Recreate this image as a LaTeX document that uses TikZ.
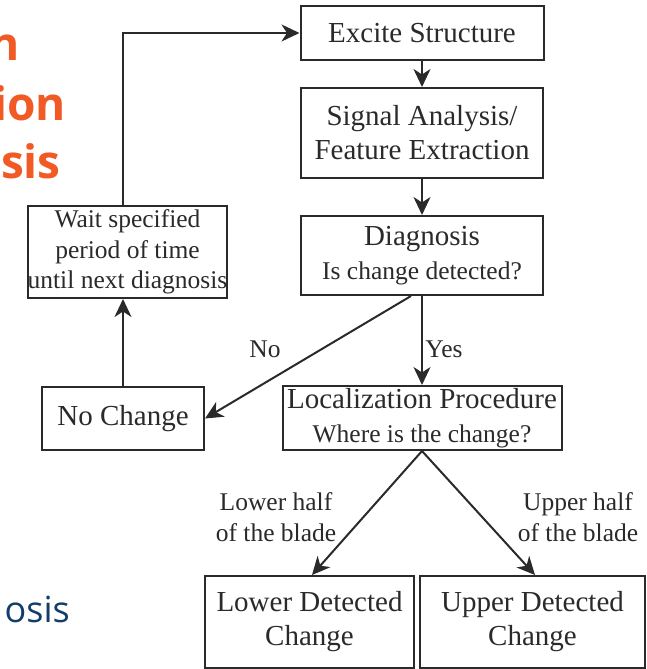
\documentclass[tikz,border=0pt]{standalone}
\usepackage{fontspec}
\setmainfont{Liberation Serif}
\newfontfamily\slidefont{Open Sans}
\usetikzlibrary{arrows.meta}
\usepackage{xcolor}
\definecolor{SlideOrange}{HTML}{F15A24}
\definecolor{SlideBlue}{HTML}{123D6A}
\definecolor{LineGray}{HTML}{2A2A2A}
\newcommand{\boxfont}{\fontsize{29}{34}\selectfont}
\newcommand{\notefont}{\fontsize{25.5}{30.5}\selectfont}

\begin{document}
\begin{tikzpicture}[x=1pt, y=-1pt,
    block/.style={draw=LineGray, line width=2pt, align=center, inner sep=0pt, text=LineGray, font=\boxfont},
    arr/.style={-{Stealth[length=18pt, width=17pt, inset=5.5pt]}, draw=LineGray, line width=2pt},
    lbl/.style={align=center, inner sep=0pt, text=LineGray, font=\notefont}]
    \useasboundingbox (0,0) rectangle (646,669);

    % Slide text behind the figure
    \node[anchor=base east, inner sep=0pt, text=SlideOrange, font=\slidefont\bfseries\fontsize{46}{58}\selectfont] (title1) at (20,60) {n};
    \node[anchor=base east, inner sep=0pt, text=SlideOrange, font=\slidefont\bfseries\fontsize{46}{58}\selectfont] (title2) at (66,120) {ion};
    \node[anchor=base east, inner sep=0pt, text=SlideOrange, font=\slidefont\bfseries\fontsize{46}{58}\selectfont] (title3) at (61,178) {sis};
    \node[anchor=base east, inner sep=0pt, text=SlideBlue, font=\slidefont\fontsize{36}{42}\selectfont] (sub) at (70,622) {osis};

    % Main loop
    \node[block, minimum width=243pt, minimum height=54pt] (excite) at (422,33) {Excite Structure};
    \node[block, minimum width=242pt, minimum height=90pt] (signal) at (422,133) {Signal Analysis/\\Feature Extraction};
    \node[block, minimum width=242pt, minimum height=79pt] (diag) at (422,255.5) {Diagnosis\\{\notefont Is change detected?}};
    \node[block, minimum width=199pt, minimum height=92pt, font=\notefont] (wait) at (127.5,252) {Wait specified\\period of time\\until next diagnosis};
    \node[block, minimum width=162pt, minimum height=63pt] (nochange) at (123,418.5) {No Change};

    % Localization
    \node[block, minimum width=279pt, minimum height=64pt] (local) at (422,418) {Localization Procedure\\{\notefont Where is the change?}};
    \node[block, minimum width=209pt, minimum height=92pt] (lower) at (309.5,622) {Lower Detected\\Change};
    \node[block, minimum width=225pt, minimum height=92pt] (upper) at (532.5,622) {Upper Detected\\Change};

    % Connectors
    \draw[arr] (excite) -- (signal);
    \draw[arr] (signal) -- (diag);
    \draw[arr] (diag) -- (local);
    \draw[arr] ([xshift=-11pt]diag.south) -- (nochange.east);
    \draw[arr] (nochange) -- (nochange |- wait.south);
    \draw[arr] (wait.north -| nochange) |- (excite);
    \draw[arr] (local.south) -- ([xshift=2.5pt]lower.north);
    \draw[arr] (local.south) -- ([xshift=2.5pt]upper.north);

    % Labels
    \node[lbl, anchor=base] (nolbl) at (265,357) {No};
    \node[lbl, anchor=base] (yeslbl) at (444,357) {Yes};
    \node[lbl] (lowlbl) at (276,517) {Lower half\\of the blade};
    \node[lbl] (uplbl) at (578,517) {Upper half\\of the blade};
\end{tikzpicture}
\end{document}
